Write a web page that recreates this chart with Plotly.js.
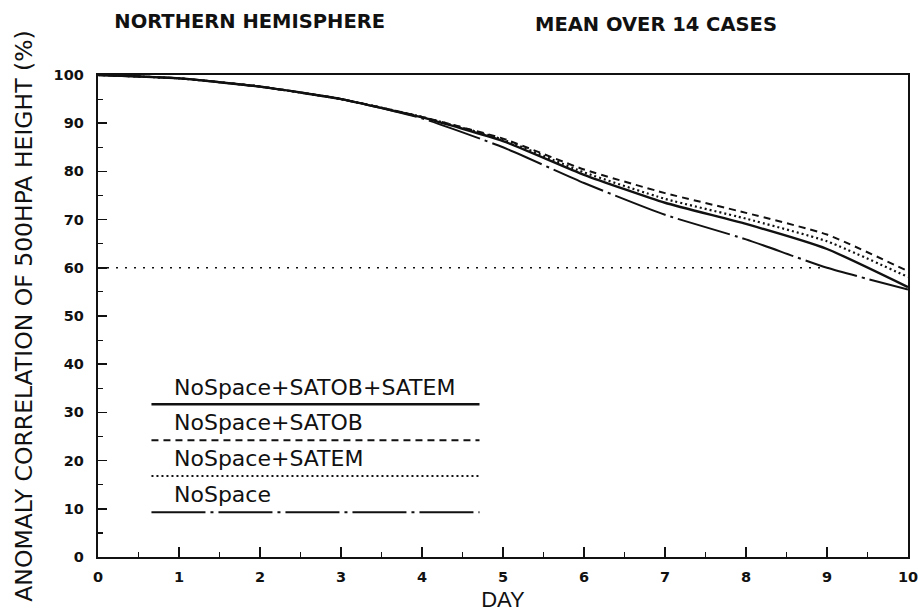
<!DOCTYPE html>
<html>
<head>
<meta charset="utf-8">
<script src="https://cdn.plot.ly/plotly-3.0.1.min.js"></script>
<style>html,body{margin:0;padding:0;background:#fff;}#chart{width:918px;height:612px;}</style>
</head>
<body>
<div id="chart"></div>
<script>
// ---- data ----
const days = [0, 1, 2, 3, 4, 5, 6, 7, 8, 9, 10];
const satobSatem = [100, 99.3, 97.6, 95.0, 91.2, 86.3, 79.3, 73.5, 69.1, 63.9, 56.0];
const satob      = [100, 99.3, 97.6, 95.0, 91.3, 86.8, 80.4, 75.5, 71.4, 66.9, 59.3];
const satem      = [100, 99.3, 97.6, 95.0, 91.3, 86.6, 79.8, 74.3, 70.2, 65.5, 58.1];
const noSpace    = [100, 99.3, 97.6, 95.0, 91.0, 85.0, 77.6, 71.0, 65.9, 60.0, 55.5];
const refDays = [0, 9.1];
const refLevel = [60, 60];
const seriesNames = ['NoSpace+SATOB+SATEM', 'NoSpace+SATOB', 'NoSpace+SATEM', 'NoSpace'];
const xTicks = [0, 1, 2, 3, 4, 5, 6, 7, 8, 9, 10];
const yTicks = [0, 10, 20, 30, 40, 50, 60, 70, 80, 90, 100];

const ink = '#111111';
const dashes = ['solid', '7px,5px', '2px,3px', '54px,5px,3px,5px'];
const widths = [2.4, 2.0, 2.2, 2.0];
const series = [satobSatem, satob, satem, noSpace];

const traces = series.map((ys, i) => ({
  x: days, y: ys, name: seriesNames[i], type: 'scatter', mode: 'lines',
  line: {color: ink, width: widths[i], dash: dashes[i], shape: 'spline', smoothing: 0.5},
  showlegend: false, hoverinfo: 'x+y+name'
}));
traces.push({
  x: refDays, y: refLevel, type: 'scatter', mode: 'lines', name: '60%',
  line: {color: ink, width: 1.6, dash: '2px,7px'}, showlegend: false
});

// hand-drawn style legend inside the plot
const legX0 = 0.66, legX1 = 4.71, legTextX = 0.91;
const legLineY = [31.7, 24.2, 16.8, 9.3];
const legTextY = [35.1, 27.9, 20.5, 12.9];
const shapes = seriesNames.map((n, i) => ({
  type: 'line', xref: 'x', yref: 'y', x0: legX0, x1: legX1, y0: legLineY[i], y1: legLineY[i],
  line: {color: ink, width: widths[i], dash: dashes[i]}
}));
const annotations = seriesNames.map((n, i) => ({
  text: n, xref: 'x', yref: 'y', x: legTextX, y: legTextY[i], xanchor: 'left', yanchor: 'middle',
  showarrow: false, font: {family: 'DejaVu Sans', size: 22, color: ink}
}));
annotations.push({
  text: 'MEAN OVER 14 CASES', xref: 'paper', yref: 'paper', x: 0.689, y: 1.105,
  xanchor: 'center', yanchor: 'middle', showarrow: false,
  font: {family: 'DejaVu Sans', size: 19.5, color: ink, weight: 'bold'}
});

const tickFont = {family: 'DejaVu Sans', size: 14.5, color: ink, weight: 'bold'};

const layout = {
  width: 918, height: 612,
  margin: {l: 98, r: 10, t: 75, b: 55, autoexpand: false},
  paper_bgcolor: '#ffffff', plot_bgcolor: '#ffffff',
  title: {
    text: 'NORTHERN HEMISPHERE', xref: 'container', yref: 'container',
    x: 0.272, y: 0.965, xanchor: 'center', yanchor: 'middle',
    font: {family: 'DejaVu Sans', size: 19.5, color: ink, weight: 'bold'}
  },
  xaxis: {
    range: [0, 10], tickvals: xTicks, ticktext: xTicks.map(String),
    ticks: 'inside', ticklen: 10, tickwidth: 1.5, tickcolor: ink,
    minor: {dtick: 0.5, ticks: 'inside', ticklen: 5, tickwidth: 1.2, tickcolor: ink, showgrid: false},
    showline: true, linewidth: 2.2, linecolor: ink, mirror: true,
    showgrid: false, zeroline: false, tickfont: tickFont, ticklabelstandoff: 5,
    ticklabeloverflow: 'allow',
    title: {text: 'DAY', standoff: 9, font: {family: 'Liberation Sans', size: 22, color: ink}},
    automargin: false
  },
  yaxis: {
    range: [0, 100], tickvals: yTicks, ticktext: yTicks.map(String),
    ticks: 'inside', ticklen: 9, tickwidth: 1.5, tickcolor: ink,
    minor: {dtick: 5, ticks: 'inside', ticklen: 5, tickwidth: 1.2, tickcolor: ink, showgrid: false},
    showline: true, linewidth: 2.2, linecolor: ink, mirror: true,
    showgrid: false, zeroline: false, tickfont: tickFont, ticklabelstandoff: 9,
    ticklabeloverflow: 'allow',
    title: {text: 'ANOMALY CORRELATION OF 500HPA HEIGHT (%)', standoff: 14,
            font: {family: 'DejaVu Sans', size: 23.5, color: ink}},
    automargin: false
  },
  shapes: shapes,
  annotations: annotations
};

Plotly.newPlot('chart', traces, layout, {displayModeBar: false, staticPlot: true});
</script>
</body>
</html>
